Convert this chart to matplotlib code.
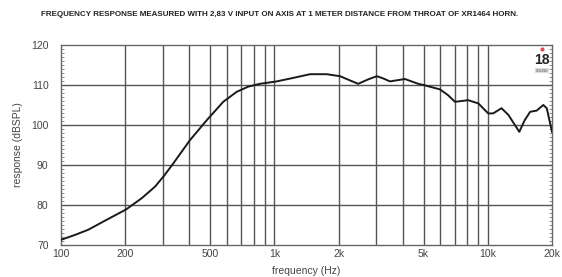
import numpy as np
import matplotlib
matplotlib.use('Agg')
import matplotlib.pyplot as plt
from matplotlib.ticker import FixedLocator, MultipleLocator, NullFormatter

# frequency response
freq_hz = [100, 116, 134, 161, 202, 239, 276, 305, 336, 402, 482, 576, 666, 755,
           856, 1025, 1183, 1469, 1758, 2030, 2250, 2470, 2750, 3020, 3250, 3480,
           4090, 4720, 5000, 5970, 6500, 7020, 8100, 9030, 10050, 10600, 11600,
           12500, 14050, 14900, 15800, 16950, 18200, 18900, 20000]
spl_db = [71.3, 72.5, 73.8, 76.1, 78.9, 81.7, 84.6, 87.4, 90.4, 96.2, 101.2, 105.8,
          108.3, 109.6, 110.3, 110.9, 111.6, 112.7, 112.7, 112.2, 111.2, 110.3,
          111.4, 112.2, 111.6, 110.9, 111.5, 110.3, 110.0, 108.9, 107.5, 105.8,
          106.2, 105.4, 102.9, 102.9, 104.2, 102.5, 98.3, 101.2, 103.3, 103.6,
          105.0, 104.2, 98.3]

x_ticks = [100, 200, 500, 1000, 2000, 5000, 10000, 20000]
x_ticklabels = ['100', '200', '500', '1k', '2k', '5k', '10k', '20k']
x_grid = [200, 300, 400, 500, 600, 700, 800, 900, 1000, 2000, 3000, 4000, 5000,
          6000, 7000, 8000, 9000, 10000]
y_ticks = [70, 80, 90, 100, 110, 120]

plt.rcParams['font.family'] = ['Liberation Sans', 'DejaVu Sans']

fig = plt.figure(figsize=(5.62, 2.77), dpi=100)
ax = fig.add_axes([61/562, 32/277, 491/562, 200/277])

ax.set_xscale('log')
ax.set_xlim(100, 20000)
ax.set_ylim(70, 120)

for f in x_grid:
    ax.axvline(f, color='#555555', lw=1.0, zorder=1)
for v in y_ticks[1:-1]:
    ax.axhline(v, color='#555555', lw=1.0, zorder=1)

ax.plot(freq_hz, spl_db, color='#1a1a1a', lw=1.4, zorder=3)

ax.xaxis.set_major_locator(FixedLocator(x_ticks))
ax.xaxis.set_minor_locator(FixedLocator([]))
ax.xaxis.set_minor_formatter(NullFormatter())
ax.set_xticklabels(x_ticklabels)
ax.set_yticks(y_ticks)
ax.yaxis.set_minor_locator(MultipleLocator(1))
ax.tick_params(axis='x', length=0, labelsize=7.5, colors='#444444', pad=3)
ax.tick_params(axis='y', which='major', length=0, labelsize=7.5, colors='#444444', pad=9)
ax.tick_params(axis='y', which='minor', direction='in', length=2, width=0.5,
               color='#666666', left=True, right=True)

for s in ax.spines.values():
    s.set_color('#666666')
    s.set_linewidth(1.0)

ax.set_xlabel('frequency (Hz)', fontsize=7.5, color='#444444', labelpad=5)
ax.set_ylabel('response (dBSPL)', fontsize=7.5, color='#444444', labelpad=6)

fig.text(0.497, 0.948,
         'FREQUENCY RESPONSE MEASURED WITH 2,83 V INPUT ON AXIS AT 1 METER DISTANCE FROM THROAT OF XR1464 HORN.',
         ha='center', va='center', fontsize=5.8, fontweight='bold', color='#222222')

# small brand mark in the corner
ax.text(0.979, 0.925, '18', transform=ax.transAxes, ha='center', va='center',
        fontsize=10, fontweight='bold', color='#222222')
ax.plot([0.979], [0.98], 'o', transform=ax.transAxes, ms=2, color='#e05050')
ax.text(0.979, 0.872, 'SOUND', transform=ax.transAxes, ha='center', va='center',
        fontsize=2.5, color='#555555',
        bbox=dict(boxstyle='square,pad=0.2', fc='#dddddd', ec='none'))

fig.savefig('out.png', dpi=100)
